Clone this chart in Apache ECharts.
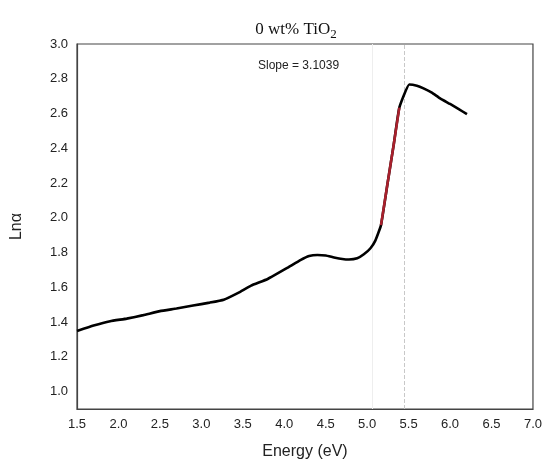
<!DOCTYPE html>
<html>
<head>
<meta charset="utf-8">
<script src="https://cdn.jsdelivr.net/npm/echarts@6/dist/echarts.min.js"></script>
<style>html,body{margin:0;padding:0;background:#fff}#c{width:545px;height:465px}</style>
</head>
<body>
<div id="c"></div>
<script>
var energy = [1.5,1.7,1.9,2.1,2.3,2.5,2.7,2.9,3.1,3.27,3.45,3.6,3.8,4.03,4.2,4.3,4.4,4.5,4.6,4.7,4.78,4.88,4.96,5.04,5.1,5.167,5.25,5.32,5.388,5.508,5.6,5.68,5.78,5.88,6.0,6.1,6.204];
var lnAlpha = [1.349,1.38,1.405,1.42,1.44,1.463,1.478,1.495,1.512,1.529,1.57,1.61,1.648,1.71,1.758,1.78,1.786,1.783,1.772,1.763,1.760,1.767,1.79,1.825,1.87,1.958,2.21,2.42,2.634,2.767,2.76,2.745,2.72,2.687,2.655,2.627,2.596];
var fitEnergy = [5.167,5.25,5.32,5.388];
var fitLn = [1.958,2.21,2.42,2.634];
var refLines = [5.06, 5.45];
var xTicks = [1.5,2.0,2.5,3.0,3.5,4.0,4.5,5.0,5.5,6.0,6.5,7.0];
var yTicks = [1.0,1.2,1.4,1.6,1.8,2.0,2.2,2.4,2.6,2.8,3.0];
var slopeText = 'Slope = 3.1039';

var chart = echarts.init(document.getElementById('c'));
var main = energy.map(function(e,i){return [e, lnAlpha[i]];});
var fit = fitEnergy.map(function(e,i){return [e, fitLn[i]];});
chart.setOption({
  animation:false,
  title:{
    text:'{a|0 wt% TiO}{b|2}',
    left:291, top:13, textAlign:'center',
    textStyle:{fontWeight:'normal',rich:{
      a:{fontFamily:'Liberation Serif',fontSize:17,fontWeight:'normal',color:'#111'},
      b:{fontFamily:'Liberation Serif',fontSize:13,fontWeight:'normal',color:'#111',padding:[10,0,0,0]}
    }}
  },
  grid:{left:77,right:12,top:44,bottom:53,show:true,borderColor:'#444',borderWidth:1.2,containLabel:false},
  xAxis:{type:'value',min:1.5,max:7.0,interval:0.5,
    name:'Energy (eV)',nameLocation:'middle',nameGap:35,
    nameTextStyle:{fontFamily:'Liberation Sans',fontSize:16,color:'#222'},
    axisLine:{show:true,lineStyle:{color:'#444',width:1.2}},axisTick:{show:false},splitLine:{show:false},
    axisLabel:{fontFamily:'Liberation Sans',fontSize:13,color:'#222',margin:9,
      formatter:function(v){var r=Math.round(v*10)/10; return xTicks.indexOf(r)>=0? r.toFixed(1):'';}}
  },
  yAxis:{type:'value',min:0.9,max:3.0,interval:0.1,
    name:'Lnα',nameLocation:'middle',nameGap:52,
    nameTextStyle:{fontFamily:'Liberation Sans',fontSize:16,color:'#222'},
    axisLine:{show:true,lineStyle:{color:'#444',width:1.2}},axisTick:{show:false},splitLine:{show:false},
    axisLabel:{fontFamily:'Liberation Sans',fontSize:13,color:'#222',margin:9,
      formatter:function(v){var r=Math.round(v*10)/10; return yTicks.indexOf(r)>=0? r.toFixed(1):'';}}
  },
  graphic:[{type:'text',left:258,top:60,style:{text:slopeText,font:'12px "Liberation Sans"',fill:'#222'}}],
  series:[
    {type:'line',data:[],z:1,
      markLine:{silent:true,symbol:'none',label:{show:false},z:1,
        data:[{xAxis:refLines[0],lineStyle:{color:'#eee',type:'solid',width:1}},
              {xAxis:refLines[1],lineStyle:{color:'#c8c8c8',type:'dashed',width:1}}]}},
    {type:'line',data:main,showSymbol:false,smooth:0.12,lineStyle:{color:'#000',width:2.6},z:3},
    {type:'line',data:fit,showSymbol:false,smooth:0.1,lineStyle:{color:'#a8202c',width:2.6},z:4}
  ]
});
</script>
</body>
</html>
